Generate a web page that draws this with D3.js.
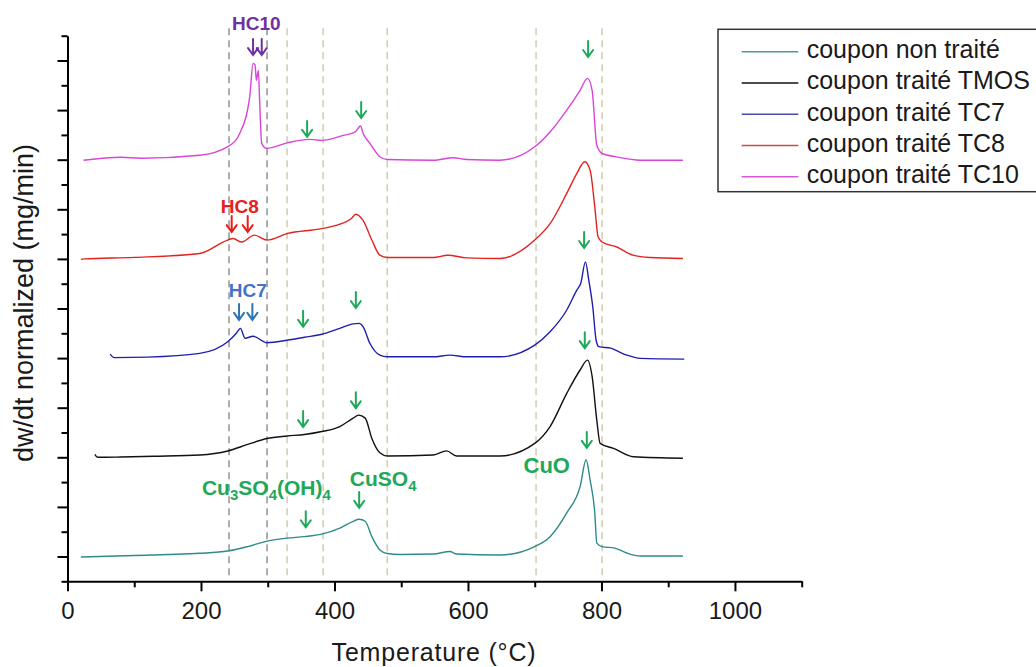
<!DOCTYPE html>
<html><head><meta charset="utf-8">
<script src="https://cdn.jsdelivr.net/npm/d3@7"></script>
<style>
body{margin:0;background:#fff;}
svg{display:block;font-family:"Liberation Sans",Arial,sans-serif;}
</style>
</head><body>
<svg id="chart" width="1036" height="667"></svg>
<script>
// ---------- DATA ----------
const seriesNames = ["coupon non traité", "coupon traité TMOS", "coupon traité TC7", "coupon traité TC8", "coupon traité TC10"];
const seriesOffsets = [0, 2, 4, 6, 8];

const tempsNonTraite = [20, 60, 100, 150, 198, 240, 270, 299, 329, 355, 381, 408, 428, 437, 446, 456, 468, 479, 498, 548, 573, 583, 648, 700, 723, 748, 768, 777, 783, 790, 793, 801, 820, 838, 858, 922];
const valuesNonTraite = [-0.01, 0.006, 0.02, 0.04, 0.065, 0.11, 0.20, 0.31, 0.37, 0.40, 0.45, 0.57, 0.71, 0.75, 0.71, 0.40, 0.13, 0.06, 0.04, 0.05, 0.10, 0.05, 0.03, 0.20, 0.40, 0.88, 1.41, 1.95, 1.54, 0.88, 0.27, 0.20, 0.17, 0.07, 0.01, 0.01];

const tempsTMOS = [41, 45, 80, 130, 198, 240, 270, 299, 329, 355, 381, 408, 428, 436, 446, 456, 468, 479, 548, 568, 583, 648, 700, 723, 748, 768, 779, 786, 793, 798, 818, 848, 922];
const valuesTMOS = [0.06, 0, 0.006, 0.02, 0.046, 0.127, 0.26, 0.38, 0.43, 0.46, 0.52, 0.62, 0.79, 0.85, 0.79, 0.38, 0.09, 0.026, 0.046, 0.13, 0.026, 0.026, 0.28, 0.62, 1.29, 1.76, 1.96, 1.63, 0.75, 0.28, 0.18, 0.01, -0.02];

const tempsTC7 = [64, 70, 120, 198, 240, 253, 259, 266, 278, 299, 329, 355, 381, 408, 428, 437, 443, 453, 468, 479, 548, 573, 598, 648, 700, 723, 748, 763, 769, 776, 781, 787, 792, 796, 814, 821, 838, 858, 924];
const valuesTC7 = [0.08, 0.01, 0.02, 0.095, 0.33, 0.50, 0.60, 0.40, 0.44, 0.31, 0.36, 0.42, 0.48, 0.60, 0.69, 0.70, 0.63, 0.30, 0.06, 0.026, 0.026, 0.06, 0.026, 0.026, 0.26, 0.53, 0.97, 1.37, 1.51, 1.94, 1.57, 1.03, 0.36, 0.23, 0.20, 0.16, 0.06, -0.006, -0.02];

const tempsTC8 = [20, 25, 100, 198, 240, 248, 261, 280, 299, 329, 381, 408, 425, 432, 443, 456, 468, 479, 548, 570, 598, 648, 700, 723, 748, 763, 775, 783, 790, 795, 801, 823, 847, 873, 922];
const valuesTC8 = [-0.01, 0, 0.03, 0.11, 0.38, 0.41, 0.34, 0.48, 0.38, 0.51, 0.61, 0.70, 0.81, 0.90, 0.77, 0.38, 0.075, 0.028, 0.028, 0.075, 0.02, 0.008, 0.38, 0.71, 1.32, 1.72, 1.96, 1.79, 1.05, 0.44, 0.34, 0.24, 0.075, 0.028, 0.008];

const tempsTC10 = [24, 80, 110, 198, 241, 258, 273, 278, 281, 283, 286, 288, 291, 298, 329, 363, 381, 413, 431, 439, 443, 453, 468, 479, 548, 578, 598, 648, 700, 723, 748, 768, 779, 786, 793, 801, 823, 858, 922];
const valuesTC10 = [-0.01, 0.05, 0.03, 0.09, 0.27, 0.53, 1.27, 1.94, 1.91, 1.60, 1.80, 1.13, 0.33, 0.23, 0.34, 0.41, 0.39, 0.49, 0.56, 0.68, 0.53, 0.33, 0.06, 0.004, -0.01, 0.04, 0.004, -0.01, 0.26, 0.56, 1.00, 1.40, 1.64, 1.40, 0.29, 0.125, 0.056, -0.01, -0.01];

const xMajorTicks = [0, 200, 400, 600, 800, 1000];
const xMinorTicks = [100, 300, 500, 700, 900, 1100];
const yMajorTicks = [0, 1, 2, 3, 4, 5, 6, 7, 8, 9, 10];
const yMinorTicks = [-0.5, 0.5, 1.5, 2.5, 3.5, 4.5, 5.5, 6.5, 7.5, 8.5, 9.5, 10.5];

const refTempsGray = [242, 299];
const refTempsBeige = [329, 383, 479, 702, 801];

// annotation arrows: temperature, tip value
const arrowsHC10 = [[278, 10.11], [291, 10.11]];
const arrowsHC8 = [[246, 6.54], [270, 6.54]];
const arrowsHC7 = [[257, 4.77], [277, 4.77]];
const arrowsGreen = [[359, 8.46], [440, 8.84], [780, 10.07], [353, 4.63], [432, 5.01], [774, 6.22], [353, 2.61], [432, 2.99], [775, 4.20], [357, 0.59], [437, 0.98], [778, 2.19]];

// ---------- STYLE ----------
const colors = ["#2f8a8c", "#111111", "#1f1fae", "#e3221d", "#d944d9"];
const legendColors = ["#4a9a9c", "#111111", "#4b4ba8", "#c94a4a", "#d35ad3"];
const purple = "#7030a0", redA = "#e8201c", blueA = "#2e75b6", blueT = "#4472c4", green = "#1fa85a";

const svg = d3.select("#chart");
const x = d3.scaleLinear().domain([0, 1100]).range([67.5, 801.7]);
const y = d3.scaleLinear().domain([-0.5, 10.5]).range([581.3, 35.7]);

// reference dashed lines
const refG = svg.append("g");
refG.selectAll("line.g").data(refTempsGray).join("line")
  .attr("x1", d => x(d)).attr("x2", d => x(d))
  .attr("y1", y(10.65)).attr("y2", y(-0.45))
  .attr("stroke", "#9a9a9a").attr("stroke-width", 1.6).attr("stroke-dasharray", "7,5");
refG.selectAll("line.b").data(refTempsBeige).join("line")
  .attr("x1", d => x(d)).attr("x2", d => x(d))
  .attr("y1", y(10.65)).attr("y2", y(-0.45))
  .attr("stroke", "#d4cfb4").attr("stroke-width", 1.6).attr("stroke-dasharray", "7,5");

// axes
const axG = svg.append("g").attr("transform", `translate(0,${y(-0.5)})`);
axG.call(d3.axisBottom(x).tickValues(xMajorTicks).tickSize(10).tickSizeOuter(0).tickFormat(d3.format("d")));
axG.append("g").call(d3.axisBottom(x).tickValues(xMinorTicks).tickSize(6).tickSizeOuter(0).tickFormat(""))
  .select(".domain").remove();
axG.selectAll("path.domain").attr("stroke", "#000").attr("stroke-width", 2);
axG.selectAll(".tick line").attr("stroke", "#000").attr("stroke-width", 2);
axG.selectAll(".tick text").attr("font-size", 24).attr("font-family", "Liberation Sans, Arial, sans-serif")
  .attr("fill", "#1a1a1a").attr("dy", "1.05em");

const ayG = svg.append("g").attr("transform", `translate(${x(0)},0)`);
ayG.call(d3.axisLeft(y).tickValues(yMajorTicks).tickSize(10).tickSizeOuter(0).tickFormat(""));
ayG.append("g").call(d3.axisLeft(y).tickValues(yMinorTicks).tickSize(6).tickSizeOuter(0).tickFormat(""))
  .select(".domain").remove();
ayG.selectAll("path.domain").attr("stroke", "#000").attr("stroke-width", 2);
ayG.selectAll(".tick line").attr("stroke", "#000").attr("stroke-width", 2);

// axis titles
svg.append("text").attr("x", 434).attr("y", 661).attr("text-anchor", "middle")
  .attr("font-size", 25).attr("letter-spacing", 0.8).attr("fill", "#1a1a1a").text("Temperature (°C)");
svg.append("text").attr("transform", "translate(33,303) rotate(-90)").attr("text-anchor", "middle")
  .attr("font-size", 27).attr("fill", "#1a1a1a").text("dw/dt normalized (mg/min)");

// curves
const allTemps = [tempsNonTraite, tempsTMOS, tempsTC7, tempsTC8, tempsTC10];
const allValues = [valuesNonTraite, valuesTMOS, valuesTC7, valuesTC8, valuesTC10];
const line = d3.line().x(d => x(d[0])).y(d => y(d[1])).curve(d3.curveMonotoneX);
allTemps.forEach((ts, i) => {
  const pts = ts.map((t, j) => [t, allValues[i][j] + seriesOffsets[i]]);
  svg.append("path").datum(pts).attr("d", line)
    .attr("fill", "none").attr("stroke", colors[i]).attr("stroke-width", 1.4)
    .attr("stroke-linejoin", "round");
});

// arrows
function arrow(t, v, col, len) {
  const ax = x(t), ay = y(v);
  svg.append("path")
    .attr("d", `M${ax},${ay - len}L${ax},${ay}M${ax - 5},${ay - 7}L${ax},${ay}L${ax + 5},${ay - 7}`)
    .attr("fill", "none").attr("stroke", col).attr("stroke-width", 2).attr("stroke-linecap", "round");
}
arrowsHC10.forEach(a => arrow(a[0], a[1], purple, 16));
arrowsHC8.forEach(a => arrow(a[0], a[1], redA, 16));
arrowsHC7.forEach(a => arrow(a[0], a[1], blueA, 16));
arrowsGreen.forEach(a => arrow(a[0], a[1], green, 16));

// labels
function label(t, v, txt, col, size) {
  svg.append("text").attr("x", x(t)).attr("y", y(v)).attr("text-anchor", "middle")
    .attr("font-size", size).attr("font-weight", "bold").attr("fill", col).text(txt);
}
label(283, 10.61, "HC10", purple, 19);
label(258, 6.93, "HC8", redA, 19);
label(270, 5.23, "HC7", blueT, 19);
label(718, 1.68, "CuO", green, 22);

function chem(t, v, parts) {
  const tx = svg.append("text").attr("x", x(t)).attr("y", y(v)).attr("text-anchor", "middle")
    .attr("font-size", 21).attr("font-weight", "bold").attr("fill", green);
  parts.forEach(p => {
    if (p.sub) tx.append("tspan").attr("font-size", 15).attr("dy", 5).text(p.t);
    else tx.append("tspan").attr("dy", p.after ? -5 : 0).text(p.t);
  });
}
chem(298, 1.24, [{t:"Cu"}, {t:"3", sub:true}, {t:"SO", after:true}, {t:"4", sub:true}, {t:"(OH)", after:true}, {t:"4", sub:true}]);
chem(473, 1.42, [{t:"CuSO"}, {t:"4", sub:true}]);

// legend
const lg = svg.append("g");
lg.append("rect").attr("x", 718).attr("y", 29.3).attr("width", 330).attr("height", 162.4)
  .attr("fill", "#fff").attr("stroke", "#333").attr("stroke-width", 1.5);
seriesNames.forEach((n, i) => {
  const ly = 51.7 + i * 31.25;
  lg.append("line").attr("x1", 741.7).attr("x2", 798.3).attr("y1", ly).attr("y2", ly)
    .attr("stroke", legendColors[i]).attr("stroke-width", 1.4);
  lg.append("text").attr("x", 806.7).attr("y", ly + 6.5).attr("font-size", 25).attr("fill", "#1a1a1a").text(n);
});
</script>
</body></html>
